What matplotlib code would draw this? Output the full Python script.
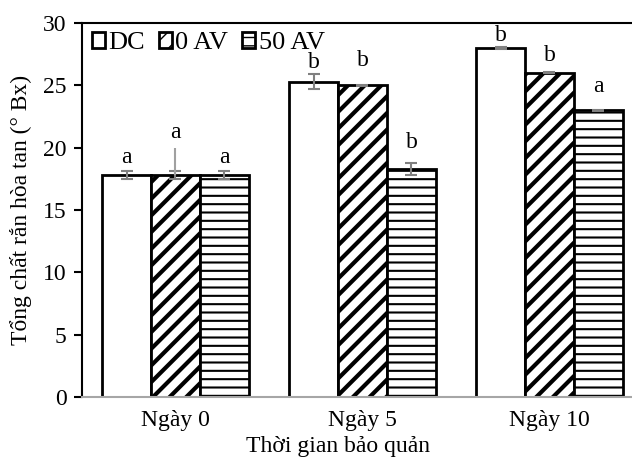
import numpy as np
import matplotlib
matplotlib.use('Agg')
import matplotlib.pyplot as plt

plt.rcParams['font.family'] = ['Liberation Serif', 'DejaVu Serif']
plt.rcParams['font.size'] = 17

# dữ liệu
groups = ['Ngày 0', 'Ngày 5', 'Ngày 10']
series = ['DC', '0 AV', '50 AV']
values = [
    [17.8, 25.3, 28.0],   # DC
    [17.8, 25.0, 26.0],   # 0 AV
    [17.8, 18.3, 23.0],   # 50 AV
]
errors = [
    [0.3, 0.6, 0.05],
    [0.3, 0.05, 0.05],
    [0.3, 0.5, 0.05],
]
letters = [
    ['a', 'b', 'b'],
    ['a', 'b', 'b'],
    ['a', 'b', 'a'],
]
letter_y = [
    [19.25, 26.8, 29.0],
    [21.2, 27.0, 27.4],
    [19.25, 20.4, 24.9],
]
hatches = ['', '//', '--']
hatch_lw = [1.0, 3.0, 1.5]

fig = plt.figure(figsize=(6.32, 4.61), dpi=100)
ax = fig.add_axes([82 / 632, 1 - 397 / 461, 561 / 632, 374 / 461])

x = np.arange(len(groups))
w = 0.262
for i in range(3):
    with plt.rc_context({'hatch.linewidth': hatch_lw[i], 'hatch.color': 'black'}):
        ax.bar(x + (i - 1) * w, values[i], w, color='white', edgecolor='black',
               linewidth=2, hatch=hatches[i], label=series[i], zorder=2)
    ax.errorbar(x + (i - 1) * w, values[i], yerr=errors[i], fmt='none',
                ecolor='#808080', elinewidth=1.5, capsize=4, capthick=1.5, zorder=3)
    for j in range(3):
        ax.text(x[j] + (i - 1) * w, letter_y[i][j], letters[i][j],
                ha='center', va='center', fontsize=17)

# đường nối nhãn "a" của 0 AV ngày 0
ax.vlines(x[0], values[1][0], 20.0, color='#a0a0a0', linewidth=1.5, zorder=3)

ax.set_xlim(-0.5, 2.5)
ax.set_ylim(0, 30)
ax.set_yticks(range(0, 31, 5))
ax.set_xticks(x)
ax.set_xticklabels(groups)
ax.tick_params(axis='x', length=0, pad=9)
ax.tick_params(axis='y', length=6, width=1.5, direction='out', pad=5)

for s in ['left', 'top']:
    ax.spines[s].set_linewidth(1.5)
    ax.spines[s].set_color('black')
ax.spines['bottom'].set_color('#a6a6a6')
ax.spines['bottom'].set_linewidth(1.5)
ax.spines['right'].set_visible(False)

ax.set_ylabel('Tổng chất rắn hòa tan (° Bx)', fontsize=17)
ax.set_xlabel('Thời gian bảo quản', fontsize=17)
ax.xaxis.set_label_coords(0.456, -0.105)
ax.yaxis.set_label_coords(-0.089, 0.5)

ax.legend(loc='upper left', ncol=3, frameon=False, fontsize=19,
          handlelength=0.5, handleheight=0.5, handletextpad=0.12,
          columnspacing=0.53, borderaxespad=0, borderpad=0,
          bbox_to_anchor=(0.018, 0.975))

fig.savefig('out.png', dpi=100)
